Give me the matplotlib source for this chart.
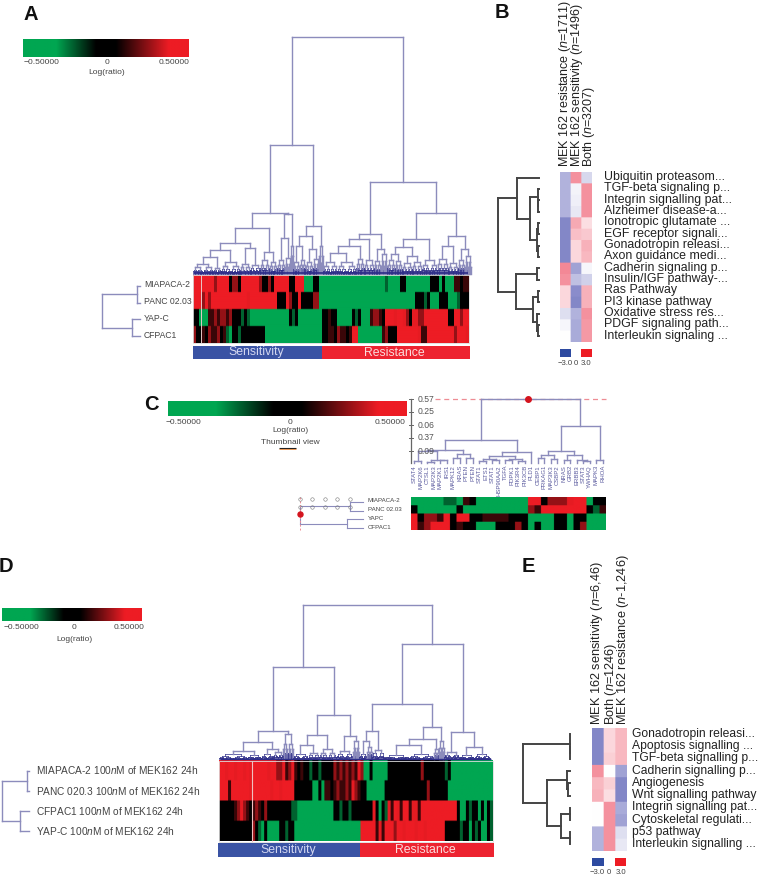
import numpy as np
import matplotlib
matplotlib.use('Agg')
import matplotlib.pyplot as plt
from matplotlib.collections import LineCollection
from matplotlib.colors import LinearSegmentedColormap
from matplotlib.patches import Rectangle

plt.rcParams['font.family'] = ['Liberation Sans', 'DejaVu Sans']
plt.rcParams['mathtext.fontset'] = 'custom'
plt.rcParams['mathtext.rm'] = 'Liberation Sans'
plt.rcParams['mathtext.it'] = 'Liberation Sans:italic'

# heat levels used in the run strings below
levels = {'G': -0.5, 'h': -0.33, 'g': -0.2, 'k': 0, 'd': 0.14, 'r': 0.26, 'm': 0.37, 'R': 0.5}

# Panel A, runs of colour per row
a_miapaca = "R3 R4 r1 R4 k1 r2 k1 R6 r1 k2 r1 k1 R5 k2 R3 G3 k2 G22 g1 G4 k2 G8 k3 G1 k1 G3 d2 k1 d2"
a_panc = "R3 r1 R1 r1 R12 m1 R9 k3 R1 r1 k2 R1 k2 k2 r2 G32 k3 g1 k1 G3 k3 G3 g1 k3"
a_yapc = "k2 G3 d2 r1 d1 r2 d1 r1 k2 k1 g1 k1 g1 h1 G1 G4 h1 G4 h1 G1 k1 g1 k1 G8 k2 d1 k2 h2 G1 h2 k1 g1 k1 G3 d1 r2 d1 k1 R3 m1 R2 m1 r1 k1 m2 r2 R8 k2 R2 r1 R1"
a_cfpac = "r1 k1 k1 d1 k1 r1 d2 r1 k1 d1 g1 h1 k1 k1 g1 k1 k7 h2 G1 h2 G14 k2 d2 k1 r1 d2 k1 d1 R2 h1 G2 h2 G1 h2 d1 r1 k3 R7 m1 d2 R9 r1 R3 m1 R6"
a_labels = ['MIAPACA-2', 'PANC 02.03', 'YAP-C', 'CFPAC1']

# Panel D
d_miapaca = "R2 m1 R2 m1 R2 m1 R1 m1 R5 m1 R2 r2 m1 d1 r1 m1 d1 k1 d1 k2 g1 k2 g1 k1 k3 r1 d1 r1 d1 r1 d1 r1 d1 m1 r1 h2 k1 G1 h1 G3 k11 r1 k7 g1 k1 G15"
d_panc = "R3 d1 R6 m1 R6 m1 R2 m1 R4 k6 G2 k1 h1 d2 k1 d1 r1 d2 r1 d1 m1 r1 d1 k2 h1 G5 k14 r1 k6 G4 h1 G1 h1 G8"
d_cfpac = "k5 d1 r1 m1 r1 d1 k1 d1 r1 d1 k1 r1 k1 k7 g2 G12 k2 g1 k2 g1 k4 k3 m1 k1 h1 k1 g1 m1 d1 R1 m1 d1 R2 d1 m2 d1 R12 k1 G2 k1 g1 k2 h1 k1 h1 k1 g1 k1 g1 k2"
d_yap = "k11 r1 k1 g1 h1 k1 G4 k2 g1 k2 G5 h1 G5 h1 G10 R5 d1 m1 d1 R3 r1 R2 m1 R3 m1 R2 m1 R6 k5 g1 k2 h1 k1 g1 k1 G2 k1 g1 k1"
d_labels = ['MIAPACA-2 100$\\mathit{n}$M of MEK162 24h', 'PANC 020.3 100$\\mathit{n}$M of MEK162 24h',
            'CFPAC1 100$\\mathit{n}$M of MEK162 24h', 'YAP-C 100$\\mathit{n}$M of MEK162 24h']

# Panel C, one letter per gene
c_miapaca = "GGhhGgghdkGGGGGGGGRRkrrrmRRGkk"
c_panc = "kGGGGGhkhGGGGGhhGGrdRRRRRRRkgd"
c_yapc = "RkrrdRkRRkkddddkkkGhGGkkhkkGGG"
c_cfpac = "RdrRRRkdkkhGGkkkrkGkGhkkGkrGGG"
c_genes = ['STAT4', 'MAP2K6', 'CTSL1', 'MAP2K3', 'MAP2K1', 'IRS1', 'MAPK12', 'KRAS', 'PTEN', 'PTEN',
           'STAT1', 'ETS1', 'STAT1', 'HSP90AA2', 'TGFA', 'PDPK1', 'PIK3R4', 'PIK3CB', 'PLD1', 'CEBP1',
           'PRKAG1', 'MAP3K3', 'CSBP2', 'NRAS', 'GRB2', 'ERBB3', 'STAT3', 'YWHAQ', 'MAPK3', 'RHOA']
c_rows = ['MIAPACA-2', 'PANC 02.03', 'YAPC', 'CFPAC1']
c_tick_labels = ['0.57', '0.25', '0.06', '0.37', '0.09']

# Panel B
b_columns = ['MEK 162 resistance ($\\mathit{n}$=1711)', 'MEK 162 sensitivity ($\\mathit{n}$=1496)', 'Both ($\\mathit{n}$=3207)']
b_pathways = ['Ubiquitin proteasom...', 'TGF-beta signaling p...', 'Integrin signalling pat...', 'Alzheimer disease-a...',
              'Ionotropic glutamate ...', 'EGF receptor signali...', 'Gonadotropin releasi...', 'Axon guidance medi...',
              'Cadherin signaling p...', 'Insulin/IGF pathway-...', 'Ras Pathway', 'PI3 kinase pathway',
              'Oxidative stress res...', 'PDGF signaling path...', 'Interleukin signaling ...']
b_resistance = [-1.0, -1.0, -1.0, -1.0, -1.6, -1.6, -1.6, -1.6, 1.5, 1.4, 0.5, 0.5, -0.4, -0.1, 0.0]
b_sensitivity = [1.4, -0.15, -0.2, -0.3, 1.1, 0.8, 0.5, 0.5, -1.2, -0.8, -1.5, -1.6, -1.0, -1.1, -1.1]
b_both = [-0.5, 1.4, 1.4, 1.4, 0.4, 0.7, 1.0, 0.9, -0.1, -0.6, 1.0, 1.0, 1.4, 1.3, 1.3]

# Panel E
e_columns = ['MEK 162 sensitivity ($\\mathit{n}$=6,46)', 'Both ($\\mathit{n}$=1246)', 'MEK 162 resistance ($\\mathit{n}$-1,246)']
e_pathways = ['Gonadotropin releasi...', 'Apoptosis signalling ...', 'TGF-beta signalling p...', 'Cadherin signalling p...',
              'Angiogenesis', 'Wnt signalling pathway', 'Integrin signalling pat...', 'Cytoskeletal regulati...',
              'p53 pathway', 'Interleukin signalling ...']
e_sensitivity = [-1.6, -1.6, -1.6, 1.4, 0.9, 1.0, 0.0, 0.0, -1.0, -1.0]
e_both = [0.5, 0.5, 0.6, 0.0, 0.6, 0.4, 1.4, 1.4, 1.4, 1.4]
e_resistance = [0.9, 0.9, 0.9, -1.2, -1.6, -1.6, -1.1, -1.2, -0.4, -0.3]

# trees: [height, child, child...], a number is a leaf of that width,
# a tuple (width, height) is a dense clump of leaves
a_tree = [237,
          [129,
           [61,
            [46,
             [31,
              [24, [17, (20, 10), (8, 6)], (19, 12)],
              [26, (10, 10), (10, 9)]],
             [22, (9, 14), (8, 12)]],
            [60, [36, (8, 14), (6, 16)], (2, 28)]],
           [48, [38, [28, (7, 12), (5, 14)], [25, (8, 12), (6, 15)]], (4, 28)]],
          [92,
           [40,
            [35, [28, [21, (14, 12), (19, 12)], (8, 15)], (10, 14)],
            [25, (7, 13), (6, 20)]],
           [61,
            [35, [27, [20, (8, 14), (7, 13)], [18, (10, 11), (10, 12)]], (15, 14)],
            [38, [28, (11, 15), (10, 11)], [25, (7, 14), (6, 18)]]]]]
d_tree = [154,
          [92,
           [28, [17, [8, (28, 5), (14, 4)], [10, (12, 5), (10, 7)]], (10, 25)],
           [44, [24, [14, (15, 5), (11, 6)], (17, 10)], [23, (17, 8), (6, 18)]]],
          [115,
           [55,
            [28, [18, (8, 5), (5, 12)], (12, 9)],
            [32, [20, [14, (25, 4), (25, 5)], (5, 10)], (5, 18)]],
           [27, (15, 7), [12, (15, 4), (16, 5)]]]]
a_row_tree = [38, [3, 1, 1], [8, 1, 1]]
d_row_tree = [27, [2, 1, 1], [9, 1, 1]]
b_tree = [41,
          [22, 1, [9, [1, 1, [1, 1, 1]], [2, [1, 1, 1], [1, 1, 1]]]],
          [23, [2, 1, 1], [6, [1, 1, 1], [2, 1, [1, 1, 1]]]]]
e_tree = [47,
          [0.5, 1, [0.3, 1, 1]],
          [23, [3, 1, [2, 1, 1]], [9, [0.5, 1, 1], [0.5, 1, 1]]]]
c_tree = [64,
          [23,
           [13,
            [12.5, [2, 1, 1], [3, [1.5, 1, 1], [3, 1, 1]]],
            [9, [5, 1, 1], [5, 1, 1]]],
           [11,
            [7, [4, [2, 1, 1], [3, 1, 1]], [4, [3, 1, 1], [2, 1, 1]]],
            1]],
          [37,
           [12, [8, [5, 1, 1], [4, 1, 1]], [8, [3.5, 1, 1], [3, 1, [2, 1, 1]]]],
           [3, 1, 1]]]
thumb_tree = [63, [13, 1, 1], [16, 1, 1]]
thumb_ticks = [300, 312, 325, 337, 350]

fine_splits = [0.5, 0.35, 0.6, 0.45, 0.55]
fine_drop = 0.62

heat_cmap = LinearSegmentedColormap.from_list('gkr', [(0, '#00a651'), (0.2, '#00a651'), (0.44, '#000000'),
                                                      (0.56, '#000000'), (0.88, '#ed1c24'), (1, '#ed1c24')])
path_cmap = LinearSegmentedColormap.from_list('bwr2', [(0, '#2d4aa0'), (0.25, '#8a8ccb'), (0.5, '#ffffff'),
                                                       (0.75, '#f48a98'), (1, '#ed1c24')])
TREE = '#8c8cbc'
NAVY = '#2c2c88'
GREY = '#444444'

fig = plt.figure(figsize=(7.62, 8.75), dpi=100)
ax = fig.add_axes([0, 0, 1, 1])


def expand(runs, n):
    vals = []
    for r in runs.split():
        vals += [levels[r[0]]] * int(r[1:])
    vals = (vals + [vals[-1]] * n)[:n]
    return vals


def fan(w, h, depth=0):
    if w < 1.0:
        return w
    f = fine_splits[depth % len(fine_splits)]
    return [h, fan(w * f, h * fine_drop, depth + 1), fan(w * (1 - f), h * fine_drop, depth + 2)]


def layout(node, cur, segs):
    if isinstance(node, tuple):
        node = fan(*node)
    if not isinstance(node, list):
        x = cur[0] + node / 2
        cur[0] += node
        return x, 0
    h = node[0]
    kids = [layout(k, cur, segs) for k in node[1:]]
    xs = [k[0] for k in kids]
    for x, ch in kids:
        segs.append((x, ch, x, h))
    segs.append((min(xs), h, max(xs), h))
    return (min(xs) + max(xs)) / 2, h


def draw_tree(node, start, base, scale=1, sideways=False, color=TREE, lw=1.0, navy_below=0):
    segs = []
    layout(node, [0], segs)
    lines, cols, wids = [], [], []
    for x1, h1, x2, h2 in segs:
        if sideways:
            lines.append([(base - h1, start + x1 * scale), (base - h2, start + x2 * scale)])
        else:
            lines.append([(start + x1 * scale, base - h1), (start + x2 * scale, base - h2)])
        small = max(h1, h2) < navy_below
        cols.append(NAVY if small else color)
        wids.append(0.5 if small else lw)
    ax.add_collection(LineCollection(lines, colors=cols, linewidths=wids, capstyle='projecting'))


def heat(rows, x0, x1, y0, y1, cmap=heat_cmap, vmin=-0.5, vmax=0.5, rep_y=12, rep_x=3):
    # cells get repeated so the soft interpolation only touches their edges
    arr = np.repeat(np.repeat(np.array(rows), rep_y, axis=0), rep_x, axis=1)
    ax.imshow(arr, extent=(x0, x1, y1, y0), aspect='auto', cmap=cmap, vmin=vmin, vmax=vmax,
              interpolation='bilinear', interpolation_stage='rgba', zorder=2)


def colorbar(x0, x1, y0, y1, ly, ly2, size, lx):
    grad = np.linspace(-0.5, 0.5, 256).reshape(1, -1)
    heat(grad, x0, x1, y0, y1, rep_x=1)
    for x, t in zip(lx, ['\u22120.50000', '0', '0.50000']):
        ax.text(x, ly, t, fontsize=size, color=GREY, ha='center', va='center')
    ax.text(lx[1], ly2, 'Log(ratio)', fontsize=size, color=GREY, ha='center', va='center')


def sens_bar(x0, xm, x1, y0, y1, size):
    ax.add_patch(Rectangle((x0, y0), xm - x0, y1 - y0, color='#3a53a4', lw=0, zorder=2))
    ax.add_patch(Rectangle((xm, y0), x1 - xm, y1 - y0, color='#ed2330', lw=0, zorder=2))
    ax.text((x0 + xm) / 2 - 1, (y0 + y1) / 2, 'Sensitivity', color='#d3d7f0', fontsize=size, ha='center', va='center', zorder=3)
    ax.text((xm + x1) / 2 - 1, (y0 + y1) / 2, 'Resistance', color='#fbdcdc', fontsize=size, ha='center', va='center', zorder=3)


def path_panel(cols, names, headers, x0, cw, y0, rh, text_x, tree, tree_base, head_x, head_y, sw_y, size, head_size):
    arr = np.array(cols).T
    n = arr.shape[0]
    heat(arr, x0, x0 + 3 * cw, y0, y0 + n * rh, cmap=path_cmap, vmin=-3, vmax=3, rep_x=12)
    for i, t in enumerate(names):
        ax.text(text_x, y0 + (i + 0.5) * rh - 0.5, t, fontsize=size, color='#222222', va='center')
    for x, t in zip(head_x, headers):
        ax.text(x, head_y, t, rotation=90, fontsize=head_size, color='#222222', ha='center', va='bottom')
    draw_tree(tree, y0, tree_base, scale=rh, sideways=True, color=GREY, lw=1.4)
    ax.add_patch(Rectangle((x0, sw_y), cw, 7.5, color='#2d4aa0', lw=0))
    ax.add_patch(Rectangle((x0 + 2 * cw, sw_y), cw, 7.5, color='#ed1c24', lw=0))
    for x, t in zip([x0 + cw * 0.5 - 0.5, x0 + cw * 1.5, x0 + cw * 2.5], ['\u22123.0', '0', '3.0']):
        ax.text(x, sw_y + 14.5, t, fontsize=5.6, color=GREY, ha='center', va='center')


# Panel A
colorbar(23, 189, 39.5, 57, 63, 72, 6.1, [41.6, 107, 174])
heat([expand(r, 92) for r in [a_miapaca, a_panc, a_yapc, a_cfpac]], 193, 469, 275, 343)
ax.vlines(201, 275, 343, color='#e8c8c8', lw=0.7, zorder=3)
ax.add_patch(Rectangle((193, 275), 276, 68, fill=False, ec='#dddddd', lw=0.6, zorder=3))
draw_tree(a_tree, 193, 273.5, navy_below=6)
ax.hlines(272.8, 194, 468, color=NAVY, lw=1.2)
sens_bar(192.5, 321.7, 469.5, 345.7, 359.3, 8.8)
draw_tree(a_row_tree, 286 - 8.35, 140, scale=16.7, sideways=True)
for i, t in enumerate(a_labels):
    ax.text(144, 284.5 + i * 17.1, t, fontsize=6.2, color=GREY, va='center')

# Panel B
path_panel([b_resistance, b_sensitivity, b_both], b_pathways, b_columns, 560, 10.6, 172, 11.33, 604,
           b_tree, 539, [565, 577, 589], 167, 349, 8.9, 9.0)

# Panel C
colorbar(168, 407, 401, 416, 422, 431, 6.0, [183, 290, 390])
ax.text(290, 442, 'Thumbnail view', fontsize=6.0, color=GREY, ha='center', va='center')
ax.hlines(448, 279, 296, color='#222222', lw=0.8)
ax.hlines(449.2, 279, 296, color='#e8873a', lw=0.6)
tick_y = [399, 412, 425, 438, 451]
ax.plot([411, 411], [399, 463], color='#666666', lw=0.9)
for y, t in zip(tick_y, c_tick_labels):
    ax.plot([409, 413], [y, y], color='#666666', lw=0.7)
    ax.text(418, y, t, fontsize=6.2, color='#555555', va='center')
ax.plot([435, 606], [399, 399], color='#ee8c94', lw=0.9, ls=(0, (4, 3)))
draw_tree(c_tree, 411, 463, scale=6.5, lw=1.0)
ax.plot([528], [399], 'o', color='#d4141e', ms=4, zorder=5)
for i, t in enumerate(c_genes):
    ax.text(411 + (i + 0.5) * 6.5, 465, t, rotation=90, fontsize=4.3, color='#5a5a9e', ha='center', va='top')
heat([[levels[c] for c in r] for r in [c_miapaca, c_panc, c_yapc, c_cfpac]], 411, 606, 497, 530, rep_x=8)
draw_tree(thumb_tree, 502 - 4.3, 363, scale=8.67, sideways=True, lw=0.8)
for i, t in enumerate(c_rows):
    ax.text(368, 501 + i * 8.7, t, fontsize=4.4, color=GREY, va='center')
ax.plot(thumb_ticks, [499] * 5, 'o', mfc='none', mec='#777777', ms=2.5, mew=0.4, zorder=3)
ax.plot(thumb_ticks, [507] * 5, 'o', mfc='none', mec='#777777', ms=2.5, mew=0.4, zorder=3)
ax.plot([300, 300], [497, 530], color='#ee8c94', lw=0.7, ls=(0, (2, 2)))
ax.plot([300], [514], 'o', color='#d4141e', ms=3.6, zorder=5)

# Panel D
colorbar(2, 142, 608, 621, 627.5, 639.5, 6.0, [21, 74, 129])
heat([expand(r, 91) for r in [d_miapaca, d_panc, d_cfpac, d_yap]], 219, 492.5, 760.5, 841.5)
ax.vlines(252, 760.5, 841.5, color='#f0c0c0', lw=0.8, zorder=3)
ax.add_patch(Rectangle((219, 760.5), 273.5, 81, fill=False, ec='#dddddd', lw=0.6, zorder=3))
draw_tree(d_tree, 219, 759, navy_below=6)
ax.hlines(758.6, 220, 491, color=NAVY, lw=1.0)
sens_bar(218, 359.5, 494, 843, 857, 8.8)
draw_tree(d_row_tree, 770.5 - 10.15, 29, scale=20.3, sideways=True)
for i, t in enumerate(d_labels):
    ax.text(36, 770.5 + i * 20.3, t, fontsize=7.3, color=GREY, va='center')

# Panel E
path_panel([e_sensitivity, e_both, e_resistance], e_pathways, e_columns, 592.3, 11.35, 728.3, 12.23, 632,
           e_tree, 570, [597, 611, 623], 725, 858, 8.7, 9.2)

# panel letters
for x, y, t in [(23, 14, 'A'), (495, 13, 'B'), (144, 405, 'C'), (-1, 567, 'D'), (522, 567, 'E')]:
    ax.text(x, y, t, fontsize=14.5, fontweight='bold', color='#111111', va='center')

ax.set_xlim(0, 762)
ax.set_ylim(875, 0)
ax.axis('off')
fig.savefig('out.png', dpi=100)
